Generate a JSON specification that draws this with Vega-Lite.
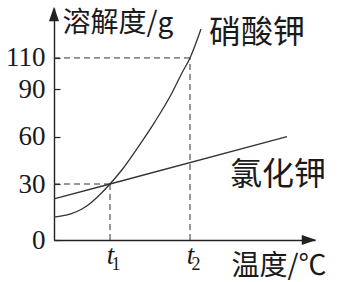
{
  "$schema": "https://vega.github.io/schema/vega-lite/v6.json",
  "width": 261,
  "height": 232,
  "autosize": {"type": "none"},
  "padding": {"left": 54, "top": 8, "right": 24, "bottom": 42},
  "background": "white",
  "config": {"view": {"stroke": null}, "axis": {"grid": false}},
  "datasets": {
    "guides": [
      {"t": 0, "t2": 28, "s": 30, "s2": 30},
      {"t": 28, "t2": 28, "s": 0, "s2": 30},
      {"t": 0, "t2": 68, "s": 110, "s2": 110},
      {"t": 68, "t2": 68, "s": 0, "s2": 110}
    ],
    "kno3": [
      {"t": 0, "s": 12.3},
      {"t": 8, "s": 13.9},
      {"t": 14, "s": 16.6},
      {"t": 19, "s": 20.4},
      {"t": 23.5, "s": 24.9},
      {"t": 28, "s": 30},
      {"t": 33.9, "s": 38.9},
      {"t": 42.2, "s": 53.7},
      {"t": 50.5, "s": 69.6},
      {"t": 58.9, "s": 87.6},
      {"t": 63.9, "s": 100.3},
      {"t": 68, "s": 110},
      {"t": 73.5, "s": 128.4}
    ],
    "kcl": [
      {"t": 0, "s": 22},
      {"t": 28, "s": 30},
      {"t": 116.5, "s": 60}
    ],
    "labels": [
      {"t": 101.5, "s": 125.9, "name": "硝酸钾"},
      {"t": 112, "s": 35.7, "name": "氯化钾"}
    ],
    "subs": [
      {"t": 28, "s": 0, "sub": "1"},
      {"t": 68, "s": 0, "sub": "2"}
    ],
    "arrows": [
      {"t": 0, "s": 141.7, "dir": "up"},
      {"t": 130.5, "s": 0, "dir": "right"}
    ]
  },
  "encoding": {
    "x": {
      "field": "t", "type": "quantitative",
      "scale": {"domain": [0, 130.5], "nice": false, "zero": false},
      "axis": {
        "values": [28, 68],
        "labelExpr": "'t'",
        "labelFont": "Liberation Serif", "labelFontStyle": "italic", "labelFontSize": 27,
        "labelColor": "#1a1a1a", "labelPadding": 2, "labelDx": -2,
        "ticks": false, "domainColor": "#222", "domainWidth": 1.4,
        "title": "温度/℃", "titleFont": "Noto Sans CJK SC", "titleFontSize": 28,
        "titleFontWeight": "normal", "titleColor": "#1a1a1a",
        "titleX": 177, "titleY": 34, "titleAlign": "left", "titleBaseline": "alphabetic"
      }
    },
    "y": {
      "field": "s", "type": "quantitative",
      "scale": {"domain": [0, 30, 141.7], "range": [232, 176, 0], "nice": false, "zero": false},
      "axis": {
        "values": [0, 30, 60, 90, 110],
        "labelFont": "Liberation Serif", "labelFontSize": 27, "labelColor": "#1a1a1a",
        "labelPadding": 15, "tickSize": -6, "tickColor": "#222", "tickWidth": 1.2,
        "domainColor": "#222", "domainWidth": 1.4,
        "title": "溶解度/g", "titleFont": "Noto Sans CJK SC", "titleFontSize": 28,
        "titleFontWeight": "normal", "titleColor": "#1a1a1a", "titleAngle": 0,
        "titleX": 8, "titleY": 23, "titleAlign": "left", "titleBaseline": "alphabetic"
      }
    }
  },
  "layer": [
    {
      "data": {"name": "guides"},
      "mark": {"type": "rule", "strokeDash": [6, 4], "strokeWidth": 1, "color": "#333"},
      "encoding": {
        "x2": {"field": "t2"},
        "y2": {"field": "s2"}
      }
    },
    {
      "data": {"name": "kno3"},
      "mark": {"type": "line", "interpolate": "monotone", "strokeWidth": 1.3, "color": "#333"},
      "encoding": {}
    },
    {
      "data": {"name": "kcl"},
      "mark": {"type": "line", "strokeWidth": 1.3, "color": "#333"},
      "encoding": {}
    },
    {
      "data": {"name": "labels"},
      "mark": {"type": "text", "font": "Noto Sans CJK SC", "fontSize": 32, "color": "#1a1a1a", "align": "center", "baseline": "middle"},
      "encoding": {
        "text": {"field": "name"}
      }
    },
    {
      "data": {"name": "subs"},
      "mark": {"type": "text", "font": "Liberation Serif", "fontSize": 18, "color": "#1a1a1a", "align": "center", "baseline": "middle", "dx": 6, "dy": 25},
      "encoding": {
        "text": {"field": "sub"}
      }
    },
    {
      "data": {"name": "arrows"},
      "mark": {"type": "point", "filled": true, "color": "#222", "opacity": 1, "size": 700},
      "encoding": {
        "shape": {
          "field": "dir", "type": "nominal", "legend": null,
          "scale": {"domain": ["up", "right"], "range": ["M0,-0.1L0.38,1L-0.38,1Z", "M0.1,0L-1,-0.38L-1,0.38Z"]}
        }
      }
    }
  ]
}
